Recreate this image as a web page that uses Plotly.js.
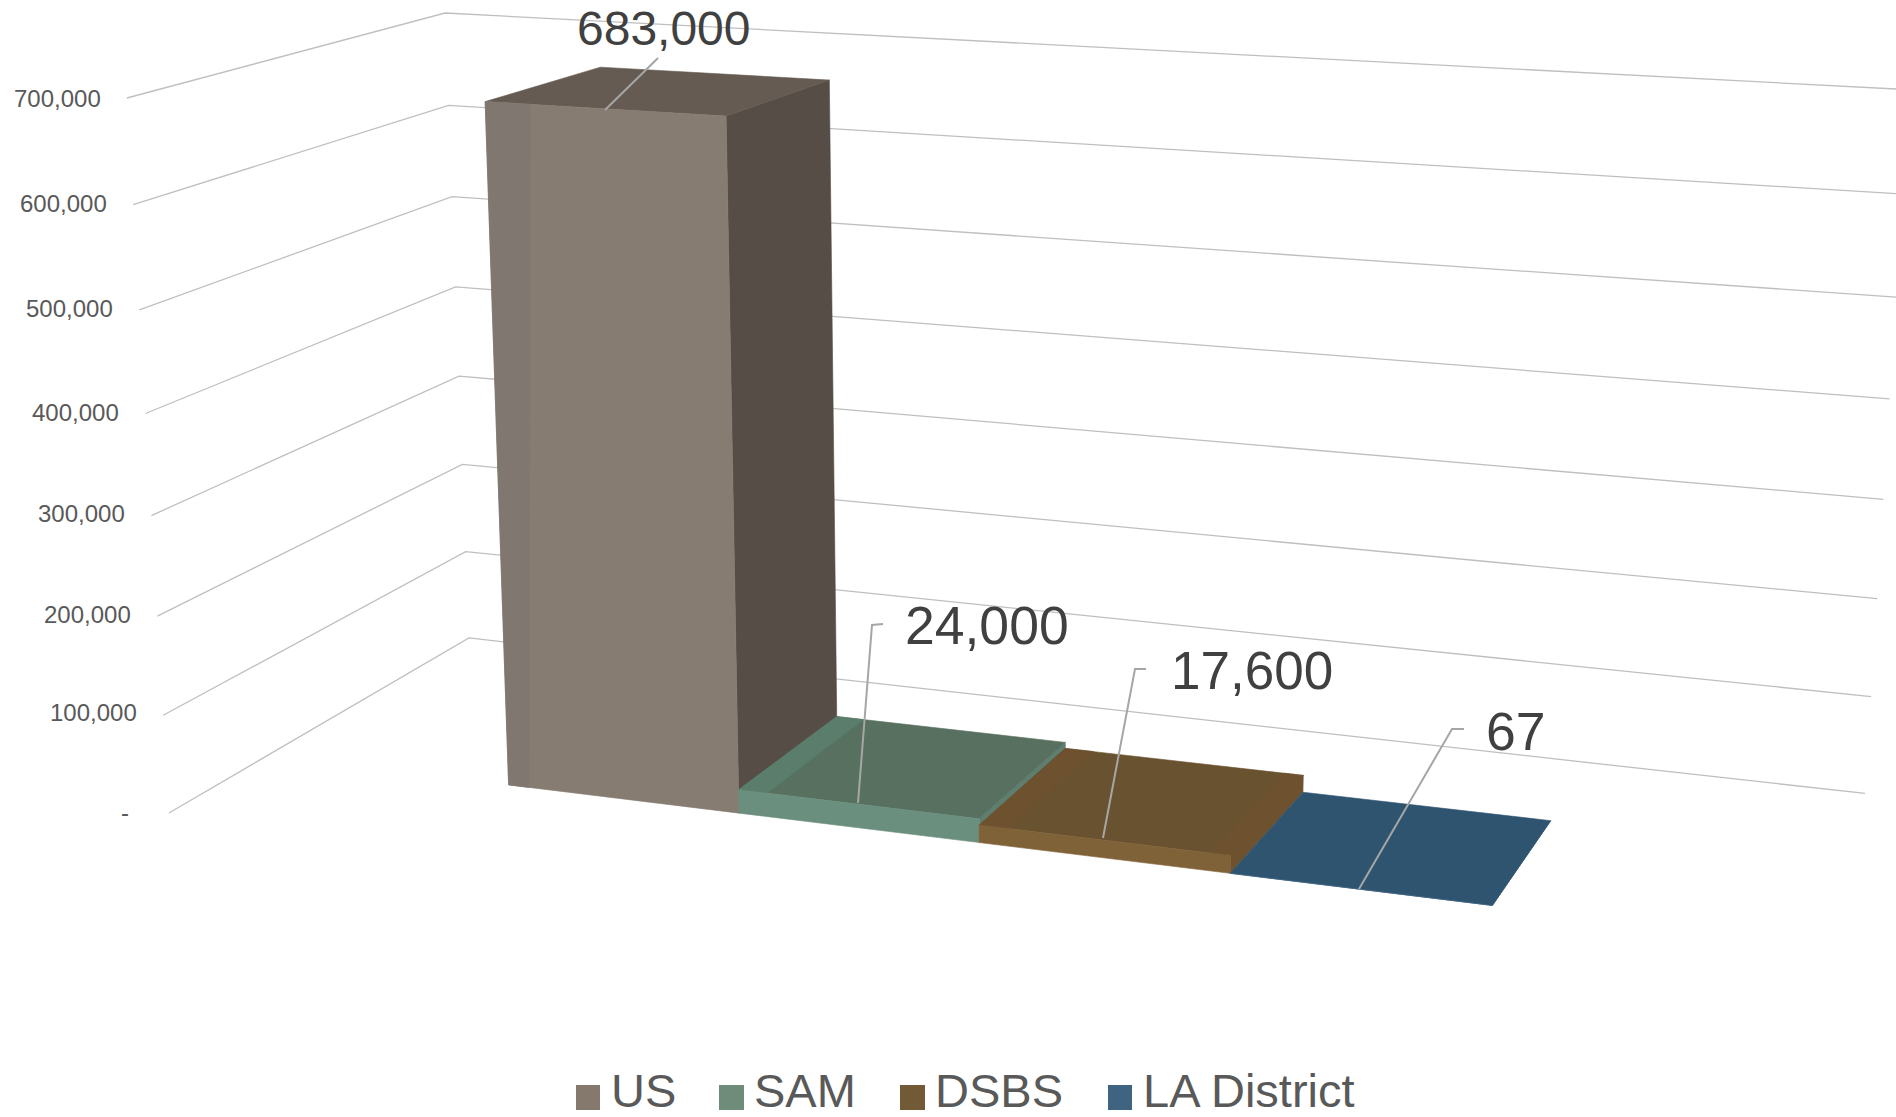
<!DOCTYPE html>
<html><head><meta charset="utf-8"><script src="https://cdn.plot.ly/plotly-3.0.1.min.js"></script>
<style>html,body{margin:0;padding:0;background:#fff;overflow:hidden}#chart{width:1896px;height:1117px}</style></head><body><div id="chart"></div>
<script>
// ---- data ----
const categories = ["US", "SAM", "DSBS", "LA District"];
const values = [683000, 24000, 17600, 67];
const valueLabels = ["683,000", "24,000", "17,600", "67"];
const tickValues = [0, 100000, 200000, 300000, 400000, 500000, 600000, 700000];
const tickLabels = ["-", "100,000", "200,000", "300,000", "400,000", "500,000", "600,000", "700,000"];

// ---- styles ----
const legendColors = ["#85786C", "#6F8B7A", "#725A36", "#3F6482"];
const frontColors = ["#877C72", "#6B8F7E", "#7F6237", "#3F6482"];
const topColors = ["#655B52", "#57705F", "#69522F", "#2F5470"];
const sideColors = ["#564D47", "#5E7F70", "#6E5230", "#2F5470"];
const stripColors = ["#807870", "#5A7D6C", "#6E5230", "#2F5470"];
const GRID = "#BFBFBF", LEADER = "#A6A6A6", FONT = "Liberation Sans, Arial, sans-serif";

// ---- oblique view: category slot / depth / value (thousands) -> picture axes ----
const P = [215.0801, 145.7439, -0.06640074, 508.6282, 11.41725, -28.91285, -1.007119, 784.9014, -0.02067562, 0.05946555, -0.00006601697];
const view = (c, d, v) => {
  const z = v / 1000, w = P[8] * c + P[9] * d + P[10] * z + 1;
  return [(P[0] * c + P[1] * d + P[2] * z + P[3]) / w, (P[4] * c + P[5] * d + P[6] * z + P[7]) / w];
};
// wall corners at a given gridline value
const wallAt = t => {
  const f = t / 700000;
  return [[-1.083 + 0.024 * f, -0.759 - 0.041 * f, t], [-1.114 - 0.025 * f, 1.788 + 0.038 * f, t], [5.107, 1.755 + 0.06 * f, t]];
};

const traces = [];
function polygon(pts, color, name) {
  const q = pts.concat([pts[0]]).map(p => view(p[0], p[1], p[2]));
  traces.push({ type: "scatter", mode: "lines", x: q.map(a => a[0]), y: q.map(a => a[1]), fill: "toself",
    fillcolor: color, line: { width: 0.6, color: color }, name: name, showlegend: false, hoverinfo: "name" });
}
// gridlines on side and back walls
tickValues.forEach((t, i) => {
  const q = wallAt(t).map(p => view(p[0], p[1], p[2]));
  traces.push({ type: "scatter", mode: "lines", x: q.map(a => a[0]), y: q.map(a => a[1]),
    line: { color: GRID, width: 1.3 }, showlegend: false, hoverinfo: "skip", name: tickLabels[i] });
});
// bars, left to right
categories.forEach((cat, i) => {
  const v = values[i], a = i, b = i + 1;
  polygon([[b, 0, 0], [b, 1, 0], [b, 1, v], [b, 0, v]], sideColors[i], cat);
  polygon([[a, 0, v], [b, 0, v], [b, 1, v], [a, 1, v]], topColors[i], cat);
  if (i === 1 || i === 2) polygon([[a, 0, v], [a + 0.12, 0, v], [a + 0.12, 1, v], [a, 1, v]], stripColors[i], cat);
  if (i === 2) polygon([[b - 0.08, 0, v], [b, 0, v], [b, 1, v], [b - 0.08, 1, v]], stripColors[i], cat);
  polygon([[a, 0, 0], [b, 0, 0], [b, 0, v], [a, 0, v]], frontColors[i], cat);
  if (i === 0) polygon([[a, 0, 0], [a + 0.09, 0, 0], [a + 0.19, 0, v], [a, 0, v]], stripColors[i], cat);
});

// axis labels
const tickNudge = [0, 3, 2, 2, 1, 1, 1, 0];
const annotations = tickValues.map((t, i) => {
  const q = view(...wallAt(t)[0]);
  return { x: q[0], y: q[1], xref: "x", yref: "y", text: tickLabels[i], showarrow: false, xanchor: "right", yanchor: "middle",
    xshift: i === 0 ? -38 : -24, yshift: tickNudge[i], font: { family: FONT, size: 24, color: "#595959" } };
});
// data labels and leaders
const labelPos = [[664, 28], [987, 625], [1252, 670], [1516, 731]];
const labelSize = [48, 53.5, 53, 53.5];
const leaders = [
  "M658,58 L605,110",
  "M883,624 L872,625 L858,803",
  "M1146,669 L1135,669 L1103,838",
  "M1464,729 L1452,729 L1359,889"];
valueLabels.forEach((s, i) => annotations.push({ x: labelPos[i][0], y: labelPos[i][1], xref: "x", yref: "y", text: s, showarrow: false,
  xanchor: "center", yanchor: "middle", font: { family: FONT, size: labelSize[i], color: "#404040" } }));
const shapes = leaders.map(d => ({ type: "path", path: d, xref: "x", yref: "y", line: { color: LEADER, width: 2 } }));
// legend
const swatchX = [[576, 600], [719, 744], [900, 925], [1108, 1132]];
const legendTextX = [609, 752, 933, 1141];
categories.forEach((cat, i) => {
  shapes.push({ type: "rect", xref: "x", yref: "y", x0: swatchX[i][0], x1: swatchX[i][1], y0: 1085, y1: 1110, fillcolor: legendColors[i], line: { width: 0 } });
  annotations.push({ x: legendTextX[i], y: 1090, xref: "x", yref: "y", text: cat, showarrow: false, xanchor: "left", yanchor: "middle",
    font: { family: FONT, size: 47, color: "#595959" } });
});

Plotly.newPlot("chart", traces, {
  width: 1896, height: 1117, margin: { l: 0, r: 0, t: 0, b: 0 }, paper_bgcolor: "#fff", plot_bgcolor: "#fff", showlegend: false,
  xaxis: { range: [0, 1896], visible: false, fixedrange: true },
  yaxis: { range: [1117, 0], visible: false, fixedrange: true },
  annotations, shapes
}, { displayModeBar: false, staticPlot: true });
</script></body></html>
